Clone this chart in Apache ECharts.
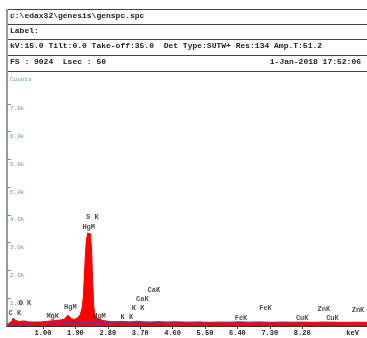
<!DOCTYPE html>
<html>
<head>
<meta charset="utf-8">
<script src="https://cdn.jsdelivr.net/npm/echarts@6/dist/echarts.min.js"></script>
<style>
  html, body { margin: 0; padding: 0; background: #fff; }
  #chart { width: 367px; height: 338px; }
</style>
</head>
<body>
<div id="chart"></div>
<script>
// spectrum (keV, counts)
const energy = [0.00, 0.08, 0.14, 0.17, 0.20, 0.23, 0.28, 0.34, 0.40, 0.44, 0.49, 0.56, 0.66, 0.80, 0.95,
  1.10, 1.22, 1.32, 1.42, 1.52, 1.60, 1.65, 1.69, 1.74, 1.80, 1.88, 1.96, 2.03, 2.08, 2.12, 2.16, 2.20,
  2.24, 2.28, 2.32, 2.35, 2.38, 2.41, 2.45, 2.52, 2.60, 2.70, 2.85, 3.00, 3.20, 3.40, 3.60, 3.75, 3.95,
  4.20, 4.45, 4.70, 5.00, 5.30, 5.60, 5.90, 6.20, 6.45, 6.70, 7.00, 7.30, 7.60, 7.90, 8.20, 8.50, 8.80,
  9.10, 9.40, 9.70, 10.00];
const counts = [0, 130, 170, 280, 340, 210, 160, 150, 170, 200, 180, 150, 140, 140, 145,
  160, 180, 195, 205, 220, 250, 320, 380, 320, 250, 240, 280, 400, 600, 1000, 2100, 3000,
  3300, 3360, 3280, 2700, 1600, 700, 330, 270, 220, 190, 160, 150, 165, 145, 170, 150, 140,
  155, 140, 150, 135, 145, 130, 140, 135, 150, 135, 145, 130, 140, 135, 140, 130, 140,
  135, 130, 135, 130];

// background fit line
const bgEnergy = [0.0, 0.5, 1.0, 1.5, 2.0, 2.5, 3.0, 4.0, 5.0, 6.0, 7.0, 8.0, 9.0, 10.0];
const bgCounts = [70, 80, 90, 105, 125, 120, 110, 105, 100, 100, 95, 95, 90, 90];

// element markers
const elemNames = ["C K", "O K", "MgK", "HgM", "S K", "HgM", "HgM", "K K", "K K", "CaK", "CaK",
  "FeK", "FeK", "CuK", "ZnK", "CuK", "ZnK"];
const elemEnergy = [0.22, 0.50, 1.27, 1.76, 2.37, 2.27, 2.57, 3.33, 3.64, 3.76, 4.08,
  6.50, 7.18, 8.20, 8.80, 9.04, 9.75];
const elemHeight = [460, 820, 360, 680, 3860, 3500, 360, 320, 640, 960, 1280,
  290, 640, 290, 600, 290, 570];

// axis ticks
const xTickValues = [1.0, 1.9, 2.8, 3.7, 4.6, 5.5, 6.4, 7.3, 8.2];
const xLabelValues = [1.0, 1.9, 2.8, 3.7, 4.6, 5.5, 6.4, 7.3, 8.2, 9.6];
const yStep = 987;
const yTickValues = [987, 1974, 2961, 3948, 4935, 5922, 6909, 7896];
const yTickLabels = ["1.0k", "2.0k", "3.0k", "4.0k", "5.0k", "5.9k", "6.9k", "7.9k"];
const fullScale = 9024;

// header
const headerRows = [
  "c:\\edax32\\genesis\\genspc.spc",
  "Label:",
  "kV:15.0 Tilt:0.0 Take-off:35.0  Det Type:SUTW+ Res:134 Amp.T:51.2",
  "FS : 9024  Lsec : 50"
];
const dateText = "1-Jan-2018 17:52:06";

const mono = "'Liberation Mono', 'DejaVu Sans Mono', monospace";
const teal = "#5c9fa0";

const rowLines = [9, 24, 39, 55, 71];
const graphics = [];
rowLines.forEach(y => {
  graphics.push({ type: "line", shape: { x1: 7, y1: y + 0.5, x2: 367, y2: y + 0.5 },
    style: { stroke: "#444", lineWidth: 1 }, silent: true });
});
graphics.push({ type: "line", shape: { x1: 7, y1: 9, x2: 7, y2: 72 }, style: { stroke: "#999", lineWidth: 2 } });
headerRows.forEach((t, i) => {
  graphics.push({ type: "text", left: 10, top: (rowLines[i] + rowLines[i + 1]) / 2 - 5,
    style: { text: t, font: "bold 8px " + mono, fill: "#222" } });
});
graphics.push({ type: "text", right: 6, top: (rowLines[3] + rowLines[4]) / 2 - 5,
  style: { text: dateText, font: "bold 8px " + mono, fill: "#222" } });

const chart = echarts.init(document.getElementById("chart"));
chart.setOption({
  animation: false,
  grid: { left: 7, right: -3, top: 72, bottom: 12 },
  graphic: graphics,
  xAxis: {
    type: "value", min: 0, max: 10,
    axisLine: { show: true, lineStyle: { color: "#333", width: 1 } },
    axisTick: { show: true, length: 3, lineStyle: { color: "#333" }, customValues: xTickValues },
    axisLabel: {
      color: "#222", fontFamily: mono, fontSize: 7, fontWeight: "bold", margin: 4,
      customValues: xLabelValues,
      formatter: v => v > 9 ? "keV" : v.toFixed(2)
    },
    splitLine: { show: false }
  },
  yAxis: {
    type: "value", min: 0, max: fullScale,
    name: "Counts", nameLocation: "end", nameGap: -10,
    nameTextStyle: { color: teal, fontFamily: mono, fontSize: 6, align: "left", padding: [0, 0, 0, 3] },
    axisLine: { show: true, lineStyle: { color: "#999", width: 2 } },
    axisTick: { show: true, inside: true, length: 4, lineStyle: { color: teal }, customValues: yTickValues },
    axisLabel: {
      inside: true, color: teal, fontFamily: mono, fontSize: 6, margin: 3,
      verticalAlign: "top", padding: [2, 0, 0, 0],
      customValues: yTickValues,
      formatter: v => yTickLabels[Math.round(v / yStep) - 1] || ""
    },
    splitLine: { show: false }
  },
  series: [
    {
      type: "line", showSymbol: false, smooth: false,
      data: energy.map((e, i) => [e, counts[i]]),
      lineStyle: { color: "#ff0000", width: 1 },
      areaStyle: { color: "#ff0000", opacity: 1 },
      z: 2
    },
    {
      type: "line", showSymbol: false, smooth: true,
      data: bgEnergy.map((e, i) => [e, bgCounts[i]]),
      lineStyle: { color: "#7a2c96", width: 1.5 },
      z: 3
    },
    {
      type: "scatter", symbolSize: 0, silent: true,
      data: elemEnergy.map((e, i) => ({ value: [e, elemHeight[i]], name: elemNames[i] })),
      label: {
        show: true, position: "inside", formatter: p => p.name,
        color: "#222", fontFamily: mono, fontSize: 7, fontWeight: "bold"
      },
      z: 4
    }
  ]
});
</script>
</body>
</html>
